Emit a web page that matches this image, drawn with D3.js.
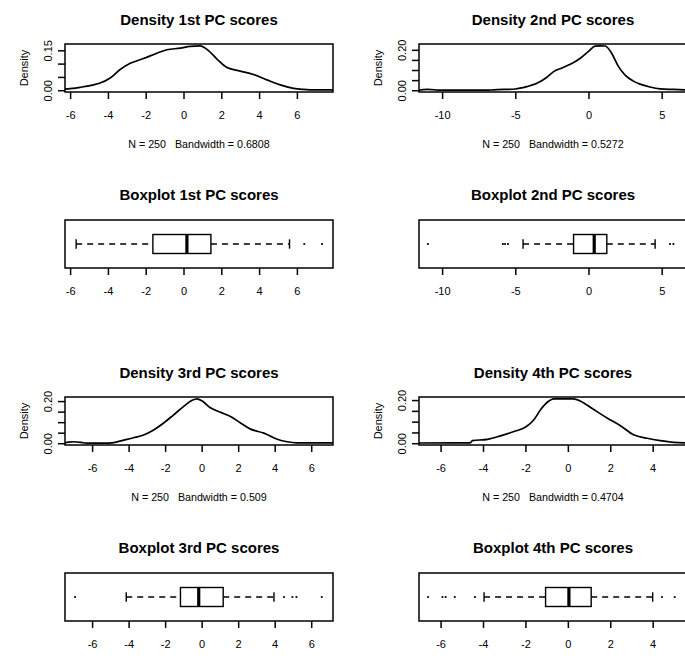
<!DOCTYPE html>
<html>
<head>
<meta charset="utf-8">
<script src="https://cdn.jsdelivr.net/npm/d3@7"></script>
<style>
  body { margin: 0; background: #fff; }
  text { font-family: "Liberation Sans", Arial, sans-serif; fill: #000; }
  .title { font-size: 15px; font-weight: bold; }
  .sub { font-size: 10.7px; }
  .axis text { font-size: 11px; }
</style>
</head>
<body>
<div id="chart"></div>
<script>
// labels for the four principal components
var pcNames = ["1st", "2nd", "3rd", "4th"]
var bandwidths = ["0.6808", "0.5272", "0.509", "0.4704"]
var sampleN = 250

// xlim used for each pair of plots (min and max of the scores)
var dataRange = [[-5.745, 7.385], [-10.9, 6.05], [-6.94, 6.65], [-6.55, 5.15]]

// density curves, [score, density]
var densityPC1 = [[-6.4, 0.003], [-6.0, 0.006], [-5.47, 0.011], [-4.76, 0.02], [-4.41, 0.027], [-3.88, 0.046],
    [-3.35, 0.078], [-2.82, 0.101], [-2.12, 0.119], [-1.41, 0.139], [-0.88, 0.152], [-0.17, 0.158],
    [0.35, 0.165], [0.88, 0.167], [1.32, 0.149], [1.77, 0.117], [2.3, 0.085], [3.0, 0.072],
    [3.7, 0.059], [4.41, 0.039], [5.12, 0.02], [5.82, 0.007], [6.35, 0.003], [7.0, 0.001], [8.0, 0.001]]
var densityPC2 = [[-11.7, 0.0], [-11.3, 0.003], [-11.0, 0.004], [-10.5, 0.002], [-10.2, 0.0], [-6.9, 0.0],
    [-6.5, 0.002], [-5.0, 0.006], [-4.2, 0.018], [-3.52, 0.034], [-2.84, 0.064], [-2.38, 0.092],
    [-1.81, 0.11], [-1.24, 0.128], [-0.56, 0.158], [0.0, 0.192], [0.45, 0.218], [0.8, 0.22],
    [1.14, 0.219], [1.59, 0.182], [2.04, 0.118], [2.5, 0.075], [3.07, 0.045], [3.52, 0.03],
    [4.2, 0.016], [4.89, 0.007], [5.8, 0.004], [7.0, 0.001]]
var densityPC3 = [[-7.6, 0.0], [-7.3, 0.005], [-7.0, 0.007], [-6.6, 0.004], [-6.3, 0.0], [-5.3, 0.0],
    [-4.91, 0.002], [-4.27, 0.015], [-3.73, 0.026], [-3.18, 0.039], [-2.63, 0.063], [-2.08, 0.096],
    [-1.53, 0.135], [-0.98, 0.175], [-0.52, 0.204], [-0.25, 0.211], [0.03, 0.2], [0.48, 0.168],
    [1.03, 0.147], [1.58, 0.127], [2.13, 0.096], [2.68, 0.067], [3.41, 0.048], [4.14, 0.019],
    [4.69, 0.007], [5.2, 0.002], [7.3, 0.002]]
var densityPC4 = [[-7.1, 0.001], [-4.6, 0.002], [-4.5, 0.012], [-3.79, 0.018], [-3.17, 0.034], [-2.54, 0.054],
    [-1.99, 0.075], [-1.6, 0.109], [-1.28, 0.156], [-0.97, 0.19], [-0.66, 0.206], [0.28, 0.206],
    [0.6, 0.195], [1.22, 0.156], [1.85, 0.117], [2.48, 0.081], [3.1, 0.039], [3.74, 0.023],
    [4.36, 0.012], [4.99, 0.004], [5.7, 0.001]]
var densities = [densityPC1, densityPC2, densityPC3, densityPC4]

// boxplot five numbers: lower whisker, q1, median, q3, upper whisker
var boxStats = [[-5.68, -1.62, 0.18, 1.45, 5.61], [-4.47, -1.02, 0.39, 1.25, 4.55],
    [-4.13, -1.16, -0.16, 1.18, 3.96], [-3.95, -1.05, 0.05, 1.1, 4.0]]
var outliers = [[6.39, 7.33], [-10.97, -5.85, -5.7, -5.5, 5.57, 5.8],
    [-6.93, 4.51, 4.97, 5.19, 6.58], [-6.59, -5.91, -5.76, -5.33, -4.38, 4.44, 5.04]]

// axis ticks
var xTicks = [[-6, -4, -2, 0, 2, 4, 6], [-10, -5, 0, 5], [-6, -4, -2, 0, 2, 4, 6], [-6, -4, -2, 0, 2, 4]]
var yTicks = [[0, 0.05, 0.10, 0.15], [0, 0.05, 0.10, 0.15, 0.20], [0, 0.05, 0.10, 0.15, 0.20], [0, 0.05, 0.10, 0.15, 0.20]]

var W = 685, H = 660
var colLeft = [65, 419]
var boxW = 268, boxH = 48
var densTop = [44, 397]
var bpTop = [220, 573]

var svg = d3.select("#chart").append("svg").attr("width", W).attr("height", H)

function padded(r) {
    var d = r[1] - r[0]
    return [r[0] - 0.04 * d, r[1] + 0.04 * d]
}

function xAxis(g, x, top, i) {
    var ax = g.append("g").attr("class", "axis")
        .attr("transform", "translate(0," + (top + boxH) + ")")
        .call(d3.axisBottom(x).tickValues(xTicks[i]).tickSize(7).tickPadding(12)
            .tickFormat(function (d) { return String(d) }))
    ax.select(".domain").remove()
    ax.selectAll("line").attr("stroke", "#000").attr("stroke-width", 1.5)
}

function drawDensity(i) {
    var left = colLeft[i % 2], top = densTop[Math.floor(i / 2)]
    var pts = densities[i]
    var m = d3.max(pts, function (p) { return p[1] })
    var x = d3.scaleLinear().domain(padded(dataRange[i])).range([left, left + boxW])
    var y = d3.scaleLinear().domain([-0.04 * m, 1.04 * m]).range([top + boxH, top])
    var g = svg.append("g")

    g.append("clipPath").attr("id", "clip" + i)
        .append("rect").attr("x", left).attr("y", top).attr("width", boxW).attr("height", boxH)

    var line = d3.line().x(function (p) { return x(p[0]) }).y(function (p) { return y(p[1]) })
        .curve(d3.curveMonotoneX)
    g.append("path").datum(pts).attr("d", line)
        .attr("clip-path", "url(#clip" + i + ")")
        .attr("fill", "none").attr("stroke", "#000").attr("stroke-width", 1.7)

    g.append("rect").attr("x", left).attr("y", top).attr("width", boxW).attr("height", boxH)
        .attr("fill", "none").attr("stroke", "#000").attr("stroke-width", 1.5)

    xAxis(g, x, top, i)

    //y axis, only the end labels are printed like R does when they overlap
    var ticks = yTicks[i]
    var ay = g.append("g").attr("class", "axis").attr("transform", "translate(" + left + ",0)")
        .call(d3.axisLeft(y).tickValues(ticks).tickSize(7)
            .tickFormat(function (d, k) { return (k == 0 || k == ticks.length - 1) ? d.toFixed(2) : "" }))
    ay.select(".domain").remove()
    ay.selectAll("line").attr("stroke", "#000").attr("stroke-width", 1.5)
    ay.selectAll(".tick text")
        .attr("x", null).attr("dy", "0.35em")
        .attr("text-anchor", "middle")
        .attr("transform", "translate(-17,0) rotate(-90)")

    g.append("text").attr("class", "axis")
        .attr("transform", "translate(" + (left - 41) + "," + (top + boxH / 2) + ") rotate(-90)")
        .attr("text-anchor", "middle").attr("dy", "0.35em")
        .style("font-size", "11px")
        .text("Density")

    g.append("text").attr("class", "title")
        .attr("x", left + boxW / 2).attr("y", top - 19)
        .attr("text-anchor", "middle")
        .text("Density " + pcNames[i] + " PC scores")

    g.append("text").attr("class", "sub")
        .attr("x", left + boxW / 2).attr("y", top + boxH + 56)
        .attr("text-anchor", "middle")
        .attr("xml:space", "preserve")
        .text("N = " + sampleN + "   Bandwidth = " + bandwidths[i])
}

function drawBoxplot(i) {
    var left = colLeft[i % 2], top = bpTop[Math.floor(i / 2)]
    var s = boxStats[i]
    var x = d3.scaleLinear().domain(padded(dataRange[i])).range([left, left + boxW])
    var cy = top + boxH / 2
    var g = svg.append("g")

    // dashed whiskers
    g.selectAll(".whisk").data([[s[0], s[1]], [s[3], s[4]]]).enter().append("line")
        .attr("x1", function (d) { return x(d[0]) }).attr("x2", function (d) { return x(d[1]) })
        .attr("y1", cy).attr("y2", cy)
        .attr("stroke", "#000").attr("stroke-width", 1.4).attr("stroke-dasharray", "6,5")
    // caps
    g.selectAll(".cap").data([s[0], s[4]]).enter().append("line")
        .attr("x1", function (d) { return x(d) }).attr("x2", function (d) { return x(d) })
        .attr("y1", cy - 4.7).attr("y2", cy + 4.7)
        .attr("stroke", "#000").attr("stroke-width", 1.4)
    g.append("rect").attr("x", x(s[1])).attr("y", cy - 9.5)
        .attr("width", x(s[3]) - x(s[1])).attr("height", 19)
        .attr("fill", "#fff").attr("stroke", "#000").attr("stroke-width", 1.4)
    g.append("line").attr("x1", x(s[2])).attr("x2", x(s[2]))
        .attr("y1", cy - 9.5).attr("y2", cy + 9.5)
        .attr("stroke", "#000").attr("stroke-width", 3.2)

    g.selectAll(".out").data(outliers[i]).enter().append("circle")
        .attr("cx", function (d) { return x(d) }).attr("cy", cy).attr("r", 1.1)
        .attr("fill", "#000")

    g.append("rect").attr("x", left).attr("y", top).attr("width", boxW).attr("height", boxH)
        .attr("fill", "none").attr("stroke", "#000").attr("stroke-width", 1.5)

    xAxis(g, x, top, i)

    g.append("text").attr("class", "title")
        .attr("x", left + boxW / 2).attr("y", top - 20)
        .attr("text-anchor", "middle")
        .text("Boxplot " + pcNames[i] + " PC scores")
}

for (var i = 0; i < 4; i++) {
    drawDensity(i)
    drawBoxplot(i)
}
</script>
</body>
</html>
